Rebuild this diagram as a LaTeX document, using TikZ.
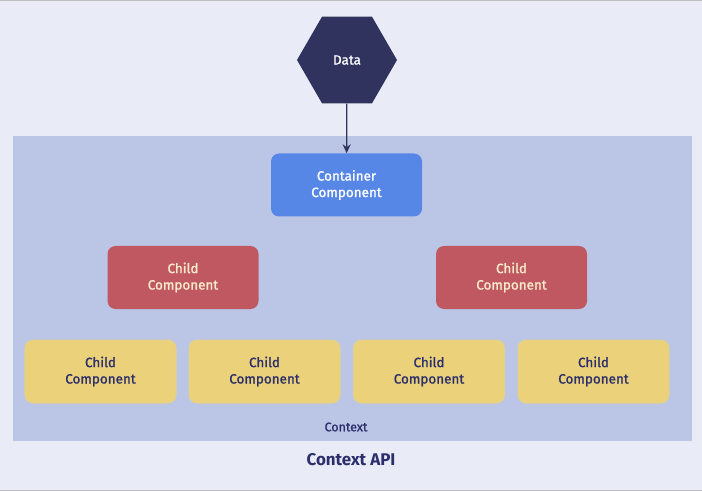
\documentclass[tikz,border=0pt]{standalone}
\usepackage{fontspec}
\setmainfont{Fira Sans}
\newfontfamily\medfont{Fira Sans}[FakeBold=1.2]
\usetikzlibrary{shapes.geometric,arrows.meta}

\definecolor{pagebg}{HTML}{E9EBF6}
\definecolor{ctxbg}{HTML}{BBC6E6}
\definecolor{navy}{HTML}{31335F}
\definecolor{inknavy}{HTML}{2C2F6B}
\definecolor{contblue}{HTML}{5687E6}
\definecolor{childred}{HTML}{C05862}
\definecolor{childyellow}{HTML}{EBD27A}
\definecolor{cream}{HTML}{F7EBCB}

\begin{document}
\begin{tikzpicture}[x=1bp,y=-1bp]
        % Styles
        \tikzstyle{comp}=[rectangle,rounded corners=8bp,minimum width=151bp,minimum height=63bp,
            inner sep=0pt,align=center,font=\medfont\fontsize{13.5}{16.5}\selectfont]
        \tikzstyle{container}=[comp,fill=contblue,text=white]
        \tikzstyle{redchild}=[comp,fill=childred,text=cream]
        \tikzstyle{yellowchild}=[comp,fill=childyellow,draw=childyellow!80!ctxbg,line width=1bp,text=inknavy]
        %background
        \useasboundingbox (0,0) rectangle (702,491);
        \fill[pagebg] (0,0) rectangle (702,491);
        \draw[gray!50,line width=1bp] (0,0.5) -- (702,0.5);
        \draw[gray!50,line width=1bp] (0,490.5) -- (702,490.5);
        \fill[ctxbg] (13,136) rectangle (692,441);
        %nodes
        \node[regular polygon,regular polygon sides=6,minimum size=100bp,inner sep=0pt,
            fill=navy,text=white,font=\medfont\fontsize{13.5}{16.5}\selectfont] (data) at (347,60) {Data};
        \node[container] (container) at (346.5,185) {Container\\Component};
        \node[redchild] (red1) at (183,277.5) {Child\\Component};
        \node[redchild] (red2) at (511.5,277.5) {Child\\Component};
        \node[yellowchild] (yel1) at (100.5,371.5) {Child\\Component};
        \node[yellowchild] (yel2) at (264.5,371.5) {Child\\Component};
        \node[yellowchild] (yel3) at (429,371.5) {Child\\Component};
        \node[yellowchild] (yel4) at (593.5,371.5) {Child\\Component};
        \node[text=inknavy,font=\medfont\fontsize{12.5}{15}\selectfont] (context) at (346,427) {Context};
        \node[text=inknavy,font=\fontsize{17}{20}\selectfont\bfseries] (api) at (351,460) {Context API};
        %arrow
        \draw[navy,line width=1.2bp,-{Stealth[length=9bp,width=8bp]}] (data) -- (container);
    \end{tikzpicture}
\end{document}
